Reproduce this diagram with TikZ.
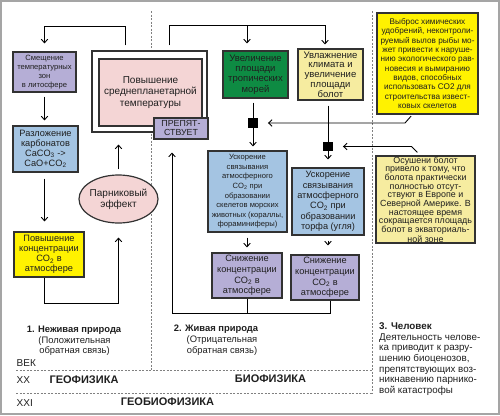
\documentclass[tikz,border=0pt]{standalone}
\usepackage{fontspec}
\setmainfont{Liberation Sans}
\usetikzlibrary{arrows.meta,calc,shapes.geometric}
\definecolor{lav}{RGB}{181,174,214}
\definecolor{blu}{RGB}{164,196,226}
\definecolor{yel}{RGB}{255,242,0}
\definecolor{lyel}{RGB}{246,236,160}
\definecolor{pnk}{RGB}{244,213,213}
\definecolor{grn}{RGB}{14,139,67}
\definecolor{bord}{RGB}{50,50,50}
\definecolor{frm}{RGB}{165,165,165}
\newcommand{\fsz}[2]{\fontsize{#1}{#2}\selectfont}
\begin{document}
\begin{tikzpicture}[x=1pt,y=-1pt,
  box/.style={draw=bord, line width=1.2pt, inner sep=0pt, align=center, text=black!88},
  arr/.style={line width=0.9pt, -{Straight Barb[length=3.5pt,width=6.5pt]}},
  ln/.style={line width=0.9pt},
  sq/.style={fill=black, minimum size=9.5pt, inner sep=0pt},
  dl/.style={gray, line width=0.8pt, dash pattern=on 2pt off 1.5pt},
  txt/.style={inner sep=0pt, align=center, text=black!88}]
\useasboundingbox (0,0) rectangle (500,415);
\draw[frm, line width=1.5pt] (1,1) rectangle (499,414);
% dashed separators
\draw[dl] (151,11) -- (151,370);
\draw[dl] (372,11) -- (372,393);
\draw[dl] (16,370) -- (372,370);
\draw[dl] (16,393) -- (372,393);
% left column
\node[box, fill=lav, minimum width=63pt, minimum height=40pt, font=\fsz{7.6}{9}] (n1) at (44.5,72) {Смещение\\температурных\\зон\\в литосфере};
\node[box, fill=blu, minimum width=65pt, minimum height=46pt, font=\fsz{9.2}{9.7}] (n2) at (45.5,149) {Разложение\\карбонатов\\CaCO\textsubscript{3} ->\\CaO+CO\textsubscript{2}};
\node[box, fill=yel, minimum width=70pt, minimum height=45pt, font=\fsz{9.2}{10}] (n3) at (49,254.5) {Повышение\\концентрации\\CO\textsubscript{2} в\\атмосфере};
\node[box, fill=white, minimum width=115pt, minimum height=81pt] (outer) at (149.5,91.5) {};
\node[box, fill=pnk, minimum width=103pt, minimum height=67pt, font=\fsz{10}{11.5}] (pink) at (150.5,92.5) {Повышение\\среднепланетарной\\температуры};
\node[box, fill=lav, minimum width=54pt, minimum height=21pt, font=\fsz{8.8}{9}] (prep) at (181,128.5) {ПРЕПЯТ-\\СТВУЕТ};
\node[box, ellipse, fill=pnk, minimum width=79pt, minimum height=48pt, inner sep=-6pt, font=\fsz{10}{10.7}] (ell) at (118.5,199) {Парниковый\\эффект};
% middle column
\node[box, fill=grn, minimum width=65pt, minimum height=47pt, font=\fsz{9.5}{10.3}] (green) at (255.5,74.5) {Увеличение\\площади\\тропических\\морей};
\node[box, fill=lyel, minimum width=65pt, minimum height=51pt, font=\fsz{9.5}{9.8}] (ly) at (330.5,74.5) {Увлажнение\\климата и\\увеличение\\площади\\болот};
\node[box, fill=blu, minimum width=79pt, minimum height=81pt, font=\fsz{7.6}{9.6}] (blueA) at (247.5,191.5) {Ускорение\\связывания\\атмосферного\\CO\textsubscript{2} при\\образовании\\скелетов морских\\животных (кораллы,\\фораминиферы)};
\node[box, fill=blu, minimum width=72pt, minimum height=67pt, font=\fsz{9.2}{10.4}] (blueB) at (328,201.5) {Ускорение\\связывания\\атмосферного\\CO\textsubscript{2} при\\образовании\\торфа (угля)};
\node[box, fill=lav, minimum width=70pt, minimum height=45pt, font=\fsz{9.2}{10.7}] (snA) at (247,275.5) {Снижение\\концентрации\\CO\textsubscript{2} в\\атмосфере};
\node[box, fill=lav, minimum width=68pt, minimum height=45pt, font=\fsz{9.2}{10.7}] (snB) at (325,277.5) {Снижение\\концентрации\\CO\textsubscript{2} в\\атмосфере};
% right column
\node[box, fill=yel, minimum width=101pt, minimum height=101pt, font=\fsz{8.2}{9.3}] (yr) at (427.5,63.5) {Выброс химических\\удобрений, неконтроли-\\руемый вылов рыбы мо-\\жет привести к наруше-\\нию экологического рав-\\новесия и вымиранию\\видов, способных\\использовать СО2 для\\строительства извест-\\ковых скелетов};
\node[box, fill=lyel, minimum width=99pt, minimum height=87pt, font=\fsz{8.9}{8.2}] (lyr) at (425.5,199.5) {Осушени болот\\привело к тому, что\\болота практически\\полностью отсут-\\ствуют в Европе и\\Северной Америке. В\\настоящее время\\сокращается площадь\\болот в экваториаль-\\ной зоне};
% squares
\node[sq] (s1) at (253,123) {};
\node[sq] (s2) at (328,146.5) {};
% coordinates
\coordinate (t1) at (125,26);
\coordinate (t2) at (169,25);
\coordinate (t3) at (325,25);
\coordinate (t4) at (247,25);
\coordinate (b1) at (172,313);
\coordinate (b2) at (330,313);
\coordinate (d1) at (405,123);
\coordinate (d2) at (411.5,146.5);
% left connectors
\draw[arr, shorten <=5pt, shorten >=8pt] (outer.north -| t1) -- (t1) -| (n1.north);
\draw[arr, shorten <=4pt, shorten >=5pt] (n1.south) -- (n1.south |- n2.north);
\draw[arr, shorten <=6pt, shorten >=10pt] (n2.south -| n1.south) -- (n1.south |- n3.north);
\draw[arr, shorten >=14pt] (n3.south -| n1.south) -- ++(0,26) -| (ell.south);
\draw[arr, shorten <=5pt, shorten >=12pt] (ell.north) -- (ell.north |- outer.south);
% middle connectors
\draw[arr, shorten <=5pt, shorten >=4pt] (outer.north -| t2) -- (t2) -- (t3) -- (t3 |- ly.north);
\draw[arr, shorten >=7pt] (t4) -- (t4 |- green.north);
\draw[arr, shorten <=4pt, shorten >=4pt] (green.south -| s1) -- (blueA.north -| s1);
\draw[arr, shorten <=5pt, shorten >=8pt] (ly.south -| s2) -- (blueB.north -| s2);
\draw[arr, shorten <=5pt, shorten >=5pt] (blueA.south -| snA.north) -- (snA.north);
\draw[arr, shorten <=5pt, shorten >=7pt] (blueB.south -| s2) -- (snA.north -| s2);
\draw[arr, shorten >=13pt] (snB.south -| b2) -- (b2) -- (b1) -- (b1 |- prep.south);
\draw[ln] (snA.south) -- (snA.south |- b1);
% right connectors
\draw[arr, shorten <=2pt, shorten >=10pt] ($(yr.south west)+(36,0)$) -- (d1) -- (s1.east);
\draw[arr, shorten >=10pt] ($(lyr.north west)+(42,-3)$) -- (d2) -- (s2.east);
% labels
\node[txt, font=\bfseries\fsz{9.4}{10}] (l1) at (74,330) {1. Неживая природа};
\node[txt, font=\fsz{9.4}{10.5}] (l1b) at (74.5,346) {(Положительная\\обратная связь)};
\node[txt, font=\bfseries\fsz{9.4}{10}] (l2) at (216,329) {2. Живая природа};
\node[txt, font=\fsz{9.4}{10.5}] (l2b) at (222,345.5) {(Отрицательная\\обратная связь)};
\node[txt, align=left, anchor=west, font=\fsz{9.8}{10.7}] (l3) at (379,359) {\textbf{3. Человек}\\Деятельность челове-\\ка приводит к разру-\\шению биоценозов,\\препятствующих воз-\\никнавению парнико-\\вой катастрофы};
\node[txt, anchor=west, font=\fsz{10}{11}] (vek) at (16.5,363) {ВЕК};
\node[txt, anchor=west, font=\fsz{10}{11}] (xx) at (16.5,380) {XX};
\node[txt, font=\bfseries\fsz{11}{12}] (geo) at (84,380) {ГЕОФИЗИКА};
\node[txt, font=\bfseries\fsz{11}{12}] (bio) at (270.5,379) {БИОФИЗИКА};
\node[txt, anchor=west, font=\fsz{10}{11}] (xxi) at (16.5,403) {XXI};
\node[txt, font=\bfseries\fsz{11}{12}] (geobio) at (167.5,402) {ГЕОБИОФИЗИКА};
\end{tikzpicture}
\end{document}
